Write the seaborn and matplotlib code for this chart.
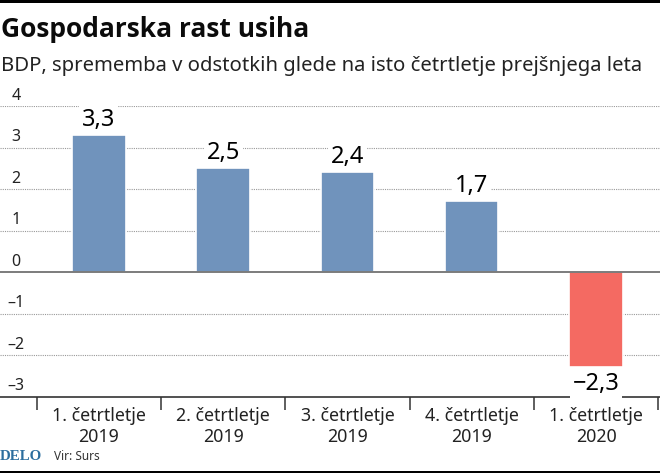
import pandas as pd
import seaborn as sns
import matplotlib.pyplot as plt
from matplotlib.patches import Rectangle
from matplotlib.ticker import FixedLocator

quarters = ["1. četrtletje\n2019", "2. četrtletje\n2019", "3. četrtletje\n2019",
            "4. četrtletje\n2019", "1. četrtletje\n2020"]
values = [3.3, 2.5, 2.4, 1.7, -2.3]
value_labels = ["3,3", "2,5", "2,4", "1,7", "−2,3"]
y_ticks = [4, 3, 2, 1, 0, -1, -2, -3]
y_tick_labels = ["4", "3", "2", "1", "0", "–1", "–2", "–3"]

BLUE = "#7093BC"
RED = "#F46A62"
W, H = 660, 473

sns.set_theme(style="white")
plt.rcParams["font.family"] = ["Noto Sans", "DejaVu Sans"]

df = pd.DataFrame({"quarter": quarters, "value": values})

fig = plt.figure(figsize=(W / 100, H / 100), dpi=100, facecolor="white")
ax = fig.add_axes([0, (H - 396.5) / H, 1, (396.5 - 106) / H])

# bars, white edge leaves the small gap in the dotted grid
sns.barplot(data=df, x="quarter", y="value", hue="quarter", legend=False,
            palette=[BLUE if v > 0 else RED for v in values], saturation=1, width=0.43,
            edgecolor="white", linewidth=1.2, zorder=3, ax=ax)

ax.set_xlim(-0.796, 4.515)
ax.set_ylim(-3, 4)
ax.set_xlabel("")
ax.set_ylabel("")

# grid
for v in y_ticks:
    if v not in (0, -3):
        ax.axhline(v, color="#999999", lw=0.8, ls=(0, (1, 1)), zorder=1)
ax.axhline(0, color="#666666", lw=1.2, zorder=4)

# y labels sit on top of the grid lines
ax.set_yticks([])
for v, lab in zip(y_ticks, y_tick_labels):
    ax.annotate(lab, xy=(0, v), xycoords=ax.get_yaxis_transform(), xytext=(11.5, 1.5),
                textcoords="offset points", ha="center", va="bottom",
                fontsize=11.5, color="#222222")

# value labels
for i, (v, lab) in enumerate(zip(values, value_labels)):
    ax.annotate(lab, xy=(i, v), xytext=(0, 2.5 if v > 0 else -3), textcoords="offset points",
                ha="center", va="bottom" if v > 0 else "top", fontsize=17, color="#000000",
                bbox=dict(facecolor="white", edgecolor="none", pad=2), zorder=5)

# x axis with separators between quarters
for s in ["top", "left", "right"]:
    ax.spines[s].set_visible(False)
ax.spines["bottom"].set_color("#333333")
ax.spines["bottom"].set_linewidth(1.2)
ax.xaxis.set_minor_locator(FixedLocator([-0.5, 0.5, 1.5, 2.5, 3.5, 4.5]))
ax.tick_params(axis="x", which="minor", bottom=True, length=9.5, width=1.1, color="#333333")
ax.tick_params(axis="x", which="major", bottom=False, pad=1.5, labelsize=12.8, labelcolor="#222222")
for t in ax.get_xticklabels():
    t.set_linespacing(1.25)

# header and footer
fig.add_artist(Rectangle((0, 1 - 3 / H), 1, 3 / H, transform=fig.transFigure, color="black", lw=0))
fig.add_artist(Rectangle((0, 0), 1, 2 / H, transform=fig.transFigure, color="black", lw=0))
fig.text(1 / W, 1 - 37 / H, "Gospodarska rast usiha", fontsize=19, fontweight="bold", color="#0b0b0b",
         family=["Open Sans", "DejaVu Sans"])
fig.text(1 / W, 1 - 71 / H, "BDP, sprememba v odstotkih glede na isto četrtletje prejšnjega leta",
         fontsize=14.6, color="#222222")
fig.text(0, 1 - 459.5 / H, "DELO", fontsize=10.8, fontweight="bold", color="#2C6E9E",
         family=["Liberation Serif", "DejaVu Serif"])
fig.text(54 / W, 1 - 459.5 / H, "Vir: Surs", fontsize=8.5, color="#333333")

fig.savefig("out.png", dpi=100)
